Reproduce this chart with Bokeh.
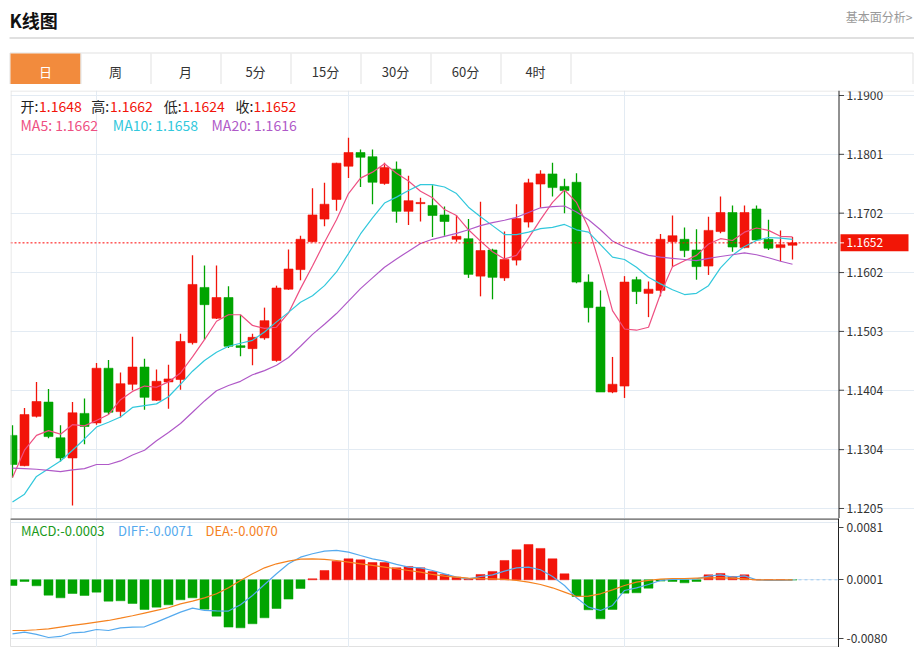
from bokeh.plotting import figure
from bokeh.models import Range1d, FixedTicker, Span, ColumnDataSource
from bokeh.layouts import column
from bokeh.embed import file_html
from bokeh.resources import INLINE
from bokeh.core.properties import value

# ---------------- data ----------------
opens = [1.1328, 1.1277, 1.1360, 1.1384, 1.1324, 1.1290, 1.1365, 1.1349, 1.1441, 1.1368,
         1.1414, 1.1443, 1.1387, 1.1418, 1.1422, 1.1484, 1.1577, 1.1525, 1.1560, 1.1479,
         1.1474, 1.1492, 1.1454, 1.1574, 1.1607, 1.1654, 1.1692, 1.1725, 1.1781, 1.1804,
         1.1797, 1.1752, 1.1776, 1.1705, 1.1718, 1.1715, 1.1699, 1.1658, 1.1659, 1.1596,
         1.1640, 1.1593, 1.1623, 1.1687, 1.1751, 1.1768, 1.1747, 1.1754, 1.1586, 1.1544,
         1.1401, 1.1411, 1.1590, 1.1567, 1.1572, 1.1654, 1.1658, 1.1640, 1.1613, 1.1671,
         1.1703, 1.1644, 1.1709, 1.1658, 1.1644, 1.1648]
highs = [1.1345, 1.1374, 1.1418, 1.1406, 1.1345, 1.1384, 1.1390, 1.1450, 1.1455, 1.1434,
         1.1494, 1.1457, 1.1439, 1.1447, 1.1499, 1.1631, 1.1614, 1.1614, 1.1579, 1.1531,
         1.1499, 1.1543, 1.1580, 1.1641, 1.1664, 1.1744, 1.1753, 1.1787, 1.1829, 1.1809,
         1.1809, 1.1787, 1.1789, 1.1765, 1.1728, 1.1749, 1.1713, 1.1699, 1.1692, 1.1721,
         1.1642, 1.1671, 1.1717, 1.1760, 1.1774, 1.1787, 1.1760, 1.1769, 1.1599, 1.1572,
         1.1460, 1.1596, 1.1595, 1.1587, 1.1667, 1.1698, 1.1678, 1.1675, 1.1696, 1.1730,
         1.1715, 1.1715, 1.1715, 1.1691, 1.1673, 1.1662]
lows = [1.1257, 1.1276, 1.1358, 1.1323, 1.1284, 1.1210, 1.1313, 1.1346, 1.1364, 1.1358,
        1.1404, 1.1371, 1.1386, 1.1373, 1.1405, 1.1481, 1.1489, 1.1524, 1.1475, 1.1461,
        1.1446, 1.1489, 1.1452, 1.1573, 1.1589, 1.1653, 1.1680, 1.1706, 1.1761, 1.1746,
        1.1717, 1.1750, 1.1686, 1.1682, 1.1688, 1.1662, 1.1664, 1.1654, 1.1593, 1.1562,
        1.1557, 1.1588, 1.1614, 1.1678, 1.1711, 1.1730, 1.1702, 1.1584, 1.1518, 1.1401,
        1.1399, 1.1391, 1.1549, 1.1527, 1.1562, 1.1611, 1.1628, 1.1590, 1.1598, 1.1668,
        1.1637, 1.1643, 1.1655, 1.1640, 1.1621, 1.1624]
closes = [1.1279, 1.1363, 1.1385, 1.1326, 1.1290, 1.1366, 1.1343, 1.1441, 1.1367, 1.1415,
          1.1443, 1.1392, 1.1419, 1.1423, 1.1486, 1.1582, 1.1548, 1.1560, 1.1478, 1.1476,
          1.1493, 1.1521, 1.1576, 1.1608, 1.1658, 1.1699, 1.1717, 1.1786, 1.1804, 1.1796,
          1.1754, 1.1779, 1.1705, 1.1723, 1.1720, 1.1698, 1.1688, 1.1663, 1.1599, 1.1639,
          1.1594, 1.1624, 1.1693, 1.1753, 1.1768, 1.1745, 1.1740, 1.1586, 1.1543, 1.1401,
          1.1414, 1.1586, 1.1570, 1.1574, 1.1658, 1.1664, 1.1639, 1.1612, 1.1673, 1.1703,
          1.1645, 1.1703, 1.1657, 1.1643, 1.1649, 1.1652]
ma5 = [1.1257, 1.1303, 1.1328, 1.1336, 1.1330, 1.1346, 1.1344, 1.1353, 1.1363, 1.1388,
       1.1402, 1.1411, 1.1409, 1.1418, 1.1433, 1.1460, 1.1489, 1.1520, 1.1531, 1.1531,
       1.1513, 1.1508, 1.1510, 1.1534, 1.1575, 1.1613, 1.1653, 1.1691, 1.1735, 1.1761,
       1.1771, 1.1785, 1.1769, 1.1756, 1.1739, 1.1728, 1.1708, 1.1698, 1.1674, 1.1655,
       1.1637, 1.1625, 1.1631, 1.1660, 1.1691, 1.1720, 1.1741, 1.1720, 1.1678, 1.1612,
       1.1538, 1.1507, 1.1505, 1.1510, 1.1566, 1.1612, 1.1622, 1.1631, 1.1650, 1.1659,
       1.1656, 1.1670, 1.1677, 1.1673, 1.1663, 1.1662]
ma10 = [1.1216, 1.1229, 1.1259, 1.1272, 1.1285, 1.1303, 1.1322, 1.1342, 1.1350, 1.1359,
        1.1375, 1.1378, 1.1381, 1.1393, 1.1414, 1.1436, 1.1454, 1.1468, 1.1478, 1.1483,
        1.1488, 1.1502, 1.1519, 1.1535, 1.1552, 1.1563, 1.1580, 1.1603, 1.1634, 1.1667,
        1.1694, 1.1719, 1.1729, 1.1740, 1.1750, 1.1750, 1.1746, 1.1735, 1.1712, 1.1696,
        1.1681, 1.1666, 1.1666, 1.1670, 1.1676, 1.1678, 1.1683, 1.1674, 1.1670, 1.1649,
        1.1628, 1.1624, 1.1611, 1.1594, 1.1583, 1.1573, 1.1565, 1.1567, 1.1580, 1.1610,
        1.1631, 1.1646, 1.1656, 1.1661, 1.1660, 1.1658]
ma20 = [1.1273, 1.1272, 1.1271, 1.1269, 1.1267, 1.1270, 1.1272, 1.1279, 1.1279, 1.1285,
        1.1295, 1.1303, 1.1319, 1.1333, 1.1348, 1.1367, 1.1386, 1.1403, 1.1412, 1.1419,
        1.1430, 1.1437, 1.1446, 1.1459, 1.1478, 1.1498, 1.1515, 1.1533, 1.1554, 1.1575,
        1.1593, 1.1611, 1.1625, 1.1638, 1.1651, 1.1658, 1.1663, 1.1668, 1.1674, 1.1681,
        1.1686, 1.1690, 1.1695, 1.1703, 1.1711, 1.1713, 1.1714, 1.1704, 1.1691, 1.1674,
        1.1655, 1.1645, 1.1638, 1.1631, 1.1628, 1.1626, 1.1624, 1.1622, 1.1626, 1.1629,
        1.1632, 1.1635, 1.1632, 1.1627, 1.1621, 1.1616]
macd = [-0.00079, -0.00023, -0.00083, -0.00213, -0.00250, -0.00190, -0.00217, -0.00171, -0.00296, -0.00291,
        -0.00328, -0.00411, -0.00379, -0.00347, -0.00277, -0.00250, -0.00407, -0.00504, -0.00656, -0.00666,
        -0.00610, -0.00527, -0.00398, -0.00268, -0.00120, 0.00014, 0.00129, 0.00259, 0.00291, 0.00277,
        0.00240, 0.00240, 0.00166, 0.00185, 0.00166, 0.00116, 0.00074, 0.00037, 0.00014, 0.00074,
        0.00116, 0.00268, 0.00416, 0.00490, 0.00435, 0.00291, 0.00083, -0.00231, -0.00416, -0.00541,
        -0.00411, -0.00185, -0.00180, -0.00116, -0.00018, -0.00023, -0.00042, -0.00023, 0.00069, 0.00088,
        0.00046, 0.00069, 0.00005, 0.00002, 0.00002, -0.00001]
diff = [-0.00749, -0.00726, -0.00758, -0.00800, -0.00786, -0.00735, -0.00726, -0.00689, -0.00703, -0.00666,
        -0.00656, -0.00652, -0.00587, -0.00518, -0.00448, -0.00393, -0.00425, -0.00430, -0.00434, -0.00347,
        -0.00217, -0.00065, 0.00083, 0.00222, 0.00314, 0.00361, 0.00398, 0.00407, 0.00384, 0.00337,
        0.00291, 0.00259, 0.00213, 0.00176, 0.00166, 0.00129, 0.00083, 0.00037, 0.00014, 0.00046,
        0.00069, 0.00120, 0.00166, 0.00176, 0.00139, 0.00046, -0.00079, -0.00250, -0.00379, -0.00425,
        -0.00356, -0.00148, -0.00111, -0.00065, -0.00009, 0.00005, 0.00009, 0.00014, 0.00051, 0.00069,
        0.00037, 0.00055, 0.00000, -0.00009, -0.00009, -0.00005]
dea = [-0.00703, -0.00703, -0.00693, -0.00680, -0.00656, -0.00633, -0.00610, -0.00587, -0.00564, -0.00532,
       -0.00499, -0.00462, -0.00425, -0.00388, -0.00333, -0.00296, -0.00250, -0.00194, -0.00111, -0.00009,
       0.00083, 0.00166, 0.00222, 0.00259, 0.00287, 0.00291, 0.00282, 0.00268, 0.00245, 0.00222,
       0.00199, 0.00176, 0.00153, 0.00129, 0.00106, 0.00074, 0.00051, 0.00037, 0.00023, 0.00018,
       0.00014, 0.00005, -0.00009, -0.00032, -0.00065, -0.00111, -0.00171, -0.00231, -0.00227, -0.00194,
       -0.00139, -0.00079, -0.00032, -0.00009, 0.00009, 0.00018, 0.00018, 0.00023, 0.00028, 0.00028,
       0.00023, 0.00014, 0.00000, 0.00000, 0.00000, 0.00000]
price_ticks = [1.1900, 1.1801, 1.1702, 1.1602, 1.1503, 1.1404, 1.1304, 1.1205]
macd_grid = [0.0080, 0.0, -0.0081]
macd_ticks = [0.0072, 0.0, -0.0081]
macd_tick_labels = ["0.0081", "0.0001", "-0.0080"]
macd_legend_names = ["MACD", "DIFF", "DEA"]
macd_legend_values = [-0.0003, -0.0071, -0.0070]
tabs = ["日", "周", "月", "5分", "15分", "30分", "60分", "4时"]

# ---------------- style ----------------
RED = "#f2140a"
GREEN = "#00a400"
C_MA5 = "#ee5082"
C_MA10 = "#32c8dc"
C_MA20 = "#b05ac8"
C_DIFF = "#55aaee"
C_DEA = "#f5821f"
C_MACD = "#1a9a1a"
GRID = "#e3ebf3"
FONT = value("Noto Sans CJK SC")

idx = list(range(len(opens)))
colors = [RED if c >= o else GREEN for o, c in zip(opens, closes)]
body_top = [max(o, c) for o, c in zip(opens, closes)]
body_bot = [min(o, c) for o, c in zip(opens, closes)]


# page pixel -> data unit helpers (used for placing texts and the axis furniture)
def pxi(px):
    return (px - 12) / 12.0


def pyp(py):
    return 1.19 - (py - 95) / 5942.0


def pym(py):
    return (579.3 - py) / 7210.0


XRP = Range1d(pxi(10), pxi(914))   # price frame spans x = 10 .. 914
XRM = Range1d(pxi(10), pxi(838))   # macd frame spans x = 10 .. 838 (axis at right)

# ---------------- header ----------------
hdr = figure(width=914, height=84, x_range=Range1d(0, 914), y_range=Range1d(84, 0),
             toolbar_location=None, output_backend="svg", min_border=0,
             x_axis_location=None, y_axis_location=None, outline_line_color=None)
hdr.frame_align = False
hdr.grid.visible = False
hdr.text(x=[9], y=[19], text=["K线图"], text_font=FONT, text_font_size="18px",
         text_font_style="bold", text_color="#111111", text_baseline="middle")
hdr.text(x=[912], y=[16], text=["基本面分析>"], text_font=FONT, text_font_size="12px",
         text_color="#999999", text_baseline="middle", text_align="right")
hdr.segment(x0=[9], y0=[37.5], x1=[914], y1=[37.5], line_color="#d6d6d6", line_width=1.5)
hdr.quad(left=[9.5], right=[912.5], top=[52.5], bottom=[90], fill_color="white",
         line_color="#e1e1e1", line_width=1)
hdr.quad(left=[10], right=[80], top=[53], bottom=[90], fill_color="#f28b3d", line_color=None)
tab_left = [10 + 70 * k for k in range(len(tabs))]
hdr.segment(x0=[l + 70.5 for l in tab_left], y0=[53] * len(tabs),
            x1=[l + 70.5 for l in tab_left], y1=[90] * len(tabs), line_color="#e1e1e1")
hdr.text(x=[l + 35 for l in tab_left], y=[71] * len(tabs), text=tabs, text_font=FONT,
         text_font_size="13px", text_align="center", text_baseline="middle",
         text_color=["white"] + ["#333333"] * (len(tabs) - 1))

# ---------------- price panel ----------------
p = figure(width=914, height=434, x_range=XRP, y_range=Range1d(pyp(518), pyp(90)),
           toolbar_location=None, output_backend="svg",
           min_border_left=10, min_border_right=0, min_border_top=6, min_border_bottom=0,
           x_axis_location=None, y_axis_location=None, outline_line_color=None)
p.frame_align = False
p.ygrid.ticker = FixedTicker(ticks=price_ticks)
p.ygrid.bounds = (pxi(10), pxi(838))
p.ygrid.grid_line_color = GRID
p.xgrid.ticker = FixedTicker(ticks=[7, 28, 51])
p.xgrid.grid_line_color = GRID
# frame borders (left light border, top line under the tab bar)
p.add_layout(Span(location=pxi(10.5), dimension="height", line_color="#e1e1e1", line_width=1))
p.add_layout(Span(location=pyp(90.5), dimension="width", line_color="#e1e1e1", line_width=1))

src = ColumnDataSource(dict(x=idx, o=opens, h=highs, l=lows, c=closes, t=body_top, b=body_bot, col=colors))
p.segment(x0="x", y0="l", x1="x", y1="h", line_color="col", line_width=1.3, source=src)
p.vbar(x="x", width=0.75, top="t", bottom="b", fill_color="col", line_color="col", line_width=0.6, source=src)
p.line(idx, ma5, line_color=C_MA5, line_width=1.2)
p.line(idx, ma10, line_color=C_MA10, line_width=1.2)
p.line(idx, ma20, line_color=C_MA20, line_width=1.2)
# last-price dotted line
p.segment(x0=[pxi(10)], y0=[closes[-1]], x1=[pxi(838)], y1=[closes[-1]],
          line_color="#ff0000", line_dash="2 2", line_width=1)

# right price scale (axis line, ticks, labels)
p.add_layout(Span(location=pxi(838.5), dimension="height", line_color="#222222", line_width=1))
n = len(price_ticks)
p.segment(x0=[pxi(838.5)] * n, y0=price_ticks, x1=[pxi(843.5)] * n, y1=price_ticks,
          line_color="#444444", line_width=1)
p.text(x=[pxi(846)] * n, y=price_ticks, text=["%.4f" % t for t in price_ticks],
       text_font=FONT, text_font_size="12px", text_color="#333333", text_baseline="middle")
# last-price tag
tag_h = 8.5 / 5942.0
p.quad(left=[pxi(840)], right=[pxi(908)], top=[closes[-1] + tag_h], bottom=[closes[-1] - tag_h],
       fill_color="#f21606", line_color=None)
p.segment(x0=[pxi(838.5)], y0=[closes[-1]], x1=[pxi(843.5)], y1=[closes[-1]],
          line_color="white", line_width=1)
p.text(x=[pxi(846)], y=[closes[-1]], text=["%.4f" % closes[-1]], text_font=FONT,
       text_font_size="12px", text_color="white", text_baseline="middle")

# OHLC legend
ohlc_parts = [("开:", 20, "#222222"), ("%.4f" % opens[-1], 38.5, RED),
              ("高:", 90.7, "#222222"), ("%.4f" % highs[-1], 109.5, RED),
              ("低:", 163.3, "#222222"), ("%.4f" % lows[-1], 181.5, RED),
              ("收:", 235, "#222222"), ("%.4f" % closes[-1], 253, RED)]
p.text(x=[pxi(a[1]) for a in ohlc_parts], y=[pyp(105.5)] * len(ohlc_parts),
       text=[a[0] for a in ohlc_parts], text_color=[a[2] for a in ohlc_parts],
       text_font=FONT, text_font_size="14px", text_baseline="middle")
ma_parts = [("MA5: %.4f" % ma5[-1], 20, C_MA5), ("MA10: %.4f" % ma10[-1], 112.3, C_MA10),
            ("MA20: %.4f" % ma20[-1], 211, C_MA20)]
p.text(x=[pxi(a[1]) for a in ma_parts], y=[pyp(124)] * len(ma_parts),
       text=[a[0] for a in ma_parts], text_color=[a[2] for a in ma_parts],
       text_font=FONT, text_font_size="14px", text_baseline="middle")

# ---------------- MACD panel ----------------
m = figure(width=914, height=129, x_range=XRM, y_range=Range1d(pym(647), pym(518)),
           toolbar_location=None, output_backend="svg",
           min_border_left=10, min_border_right=76, min_border_top=0, min_border_bottom=0,
           x_axis_location=None, y_axis_location="right", outline_line_color="#e1e1e1")
m.frame_align = False
m.yaxis.ticker = FixedTicker(ticks=macd_ticks)
m.yaxis.major_label_overrides = {t: s for t, s in zip(macd_ticks, macd_tick_labels)}
m.yaxis.axis_line_color = "#222222"
m.yaxis.major_tick_line_color = "#444444"
m.yaxis.major_tick_out = 5
m.yaxis.major_tick_in = 0
m.yaxis.minor_tick_line_color = None
m.yaxis.major_label_standoff = 3
m.yaxis.major_label_text_font = "Noto Sans CJK SC"
m.yaxis.major_label_text_font_size = "12px"
m.yaxis.major_label_text_color = "#333333"
m.ygrid.ticker = FixedTicker(ticks=macd_grid)
m.ygrid.grid_line_color = GRID
m.xgrid.ticker = FixedTicker(ticks=[7, 28, 51])
m.xgrid.grid_line_color = GRID

mcol = [RED if v >= 0 else GREEN for v in macd]
m.vbar(x=idx, width=0.75, top=macd, bottom=0, fill_color=mcol, line_color=mcol, line_width=0.5)
m.ray(x=[idx[-1]], y=[0], length=0, angle=0, line_color="#9fcaf0", line_dash="3 3", line_width=1)
m.line(idx, diff, line_color=C_DIFF, line_width=1.2)
m.line(idx, dea, line_color=C_DEA, line_width=1.2)
m.add_layout(Span(location=pym(518.5), dimension="width", line_color="#111111", line_width=1))
leg_x = [20.5, 117.5, 205]
leg_c = [C_MACD, C_DIFF, C_DEA]
m.text(x=[pxi(v) for v in leg_x], y=[pym(530)] * 3,
       text=["%s:%.4f" % (nm, v) for nm, v in zip(macd_legend_names, macd_legend_values)],
       text_color=leg_c, text_font=FONT, text_font_size="13px", text_baseline="middle")

layout = column(hdr, p, m, spacing=0)
open("out.html", "w").write(file_html(layout, INLINE))
